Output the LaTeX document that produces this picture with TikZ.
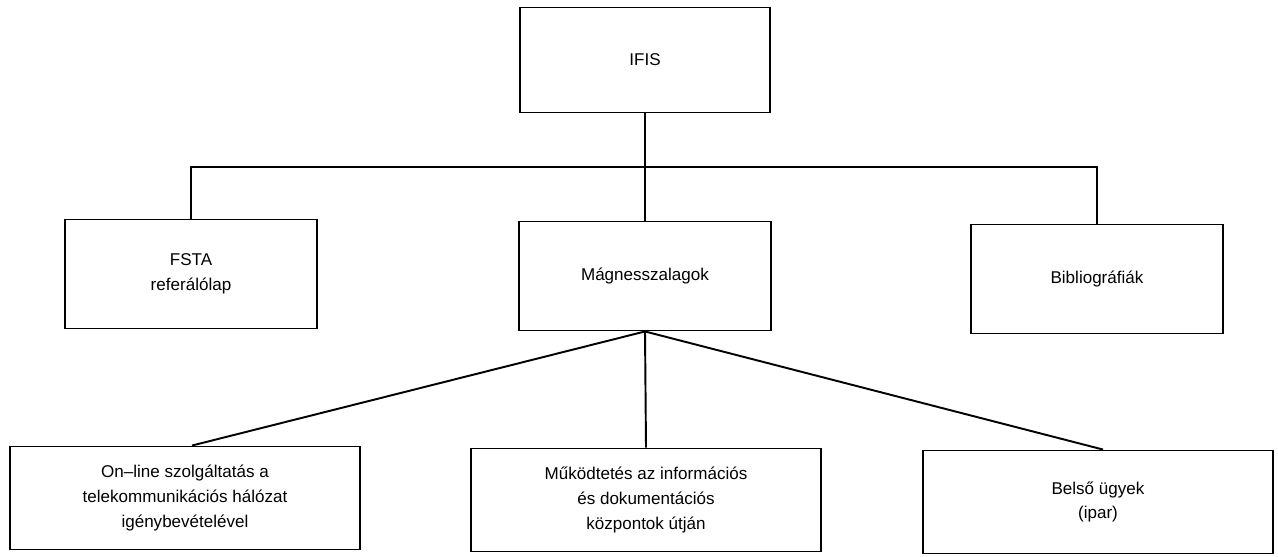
\documentclass[tikz,border=0pt]{standalone}
\usepackage{fontspec}
\setmainfont{Liberation Sans}
\usetikzlibrary{positioning}

\begin{document}
\begin{tikzpicture}[
        x=0.02cm, y=-0.02cm,
        box/.style={rectangle, draw, line width=1.1pt, align=center, inner sep=0pt, font=\fontsize{9.7}{14}\selectfont},
        topbox/.style={box, minimum width=5cm, minimum height=2.1cm},
        midbox/.style={box, minimum width=5.04cm, minimum height=2.18cm},
        lowbox/.style={box, minimum width=7cm, minimum height=2.06cm},
        line/.style={line width=1.1pt}
    ]
        \useasboundingbox (0,0) rectangle (1278,557);

        % Felső szint
        \node[topbox] (ifis) at (645,60) {IFIS};
        \coordinate (bar) at (645,167);

        % Középső szint
        \node[midbox] (fsta) at (191,274) {FSTA\\referálólap};
        \node[midbox] (mag) at (645,276) {Mágnesszalagok};
        \node[midbox] (bibl) at (1097,279) {Bibliográfiák};

        % Alsó szint
        \node[lowbox] (online) at (185,498) {On--line szolgáltatás a\\telekommunikációs hálózat\\igénybevételével};
        \node[lowbox] (centre) at (646,500) {Működtetés az információs\\és dokumentációs\\központok útján};
        \node[lowbox] (inner) at (1098,502) {Belső ügyek\\(ipar)};

        % Kapcsolatok
        \draw[line] (ifis.south) -- (mag.north);
        \draw[line] (fsta.north) -- (fsta.north |- bar) -- (bibl.north |- bar) -- (bibl.north);
        \draw[line] (mag.south) -- ([xshift=0.14cm]online.north);
        \draw[line] (mag.south) -- (centre.north);
        \draw[line] (mag.south) -- ([xshift=0.1cm]inner.north);
    \end{tikzpicture}
\end{document}
